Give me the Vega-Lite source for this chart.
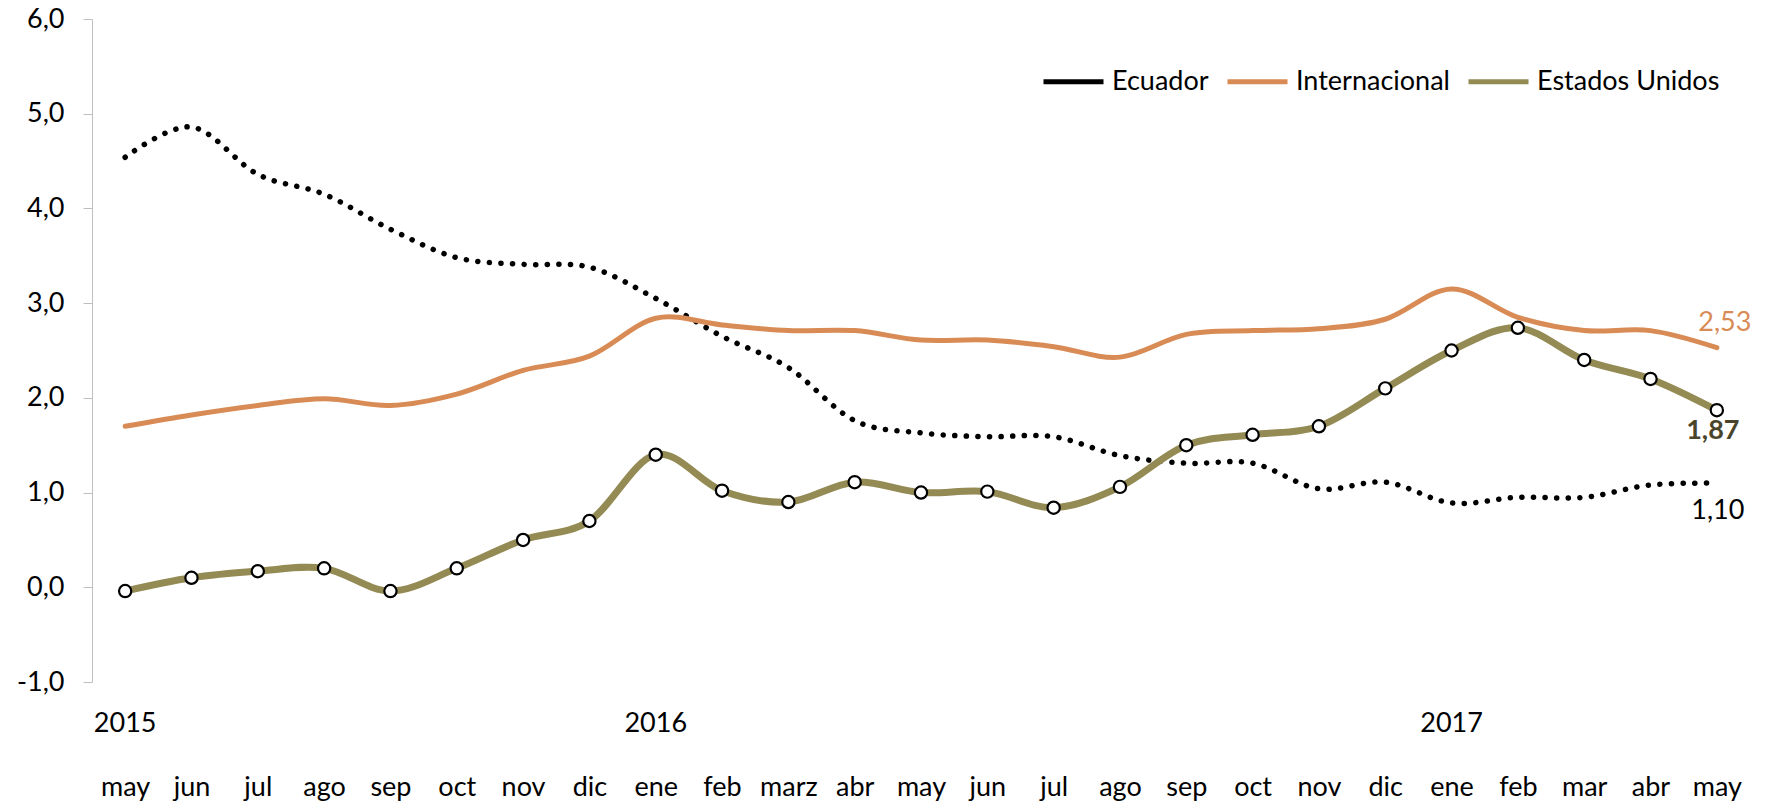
{
  "$schema": "https://vega.github.io/schema/vega-lite/v6.json",
  "width": 1658,
  "height": 663,
  "autosize": {"type": "none"},
  "padding": {"left": 92, "top": 19, "right": 20, "bottom": 120},
  "background": "white",
  "config": {
    "view": {"stroke": null},
    "font": "Lato"
  },
  "data": {"values": [
    {"mes": "may-2015", "serie": "Ecuador", "valor": 4.54},
    {"mes": "jun-2015", "serie": "Ecuador", "valor": 4.86},
    {"mes": "jul-2015", "serie": "Ecuador", "valor": 4.36},
    {"mes": "ago-2015", "serie": "Ecuador", "valor": 4.15},
    {"mes": "sep-2015", "serie": "Ecuador", "valor": 3.78},
    {"mes": "oct-2015", "serie": "Ecuador", "valor": 3.48},
    {"mes": "nov-2015", "serie": "Ecuador", "valor": 3.41},
    {"mes": "dic-2015", "serie": "Ecuador", "valor": 3.38},
    {"mes": "ene-2016", "serie": "Ecuador", "valor": 3.05},
    {"mes": "feb-2016", "serie": "Ecuador", "valor": 2.65},
    {"mes": "marz-2016", "serie": "Ecuador", "valor": 2.32},
    {"mes": "abr-2016", "serie": "Ecuador", "valor": 1.76},
    {"mes": "may-2016", "serie": "Ecuador", "valor": 1.63},
    {"mes": "jun-2016", "serie": "Ecuador", "valor": 1.59},
    {"mes": "jul-2016", "serie": "Ecuador", "valor": 1.59},
    {"mes": "ago-2016", "serie": "Ecuador", "valor": 1.39},
    {"mes": "sep-2016", "serie": "Ecuador", "valor": 1.31},
    {"mes": "oct-2016", "serie": "Ecuador", "valor": 1.31},
    {"mes": "nov-2016", "serie": "Ecuador", "valor": 1.04},
    {"mes": "dic-2016", "serie": "Ecuador", "valor": 1.11},
    {"mes": "ene-2017", "serie": "Ecuador", "valor": 0.89},
    {"mes": "feb-2017", "serie": "Ecuador", "valor": 0.95},
    {"mes": "mar-2017", "serie": "Ecuador", "valor": 0.95},
    {"mes": "abr-2017", "serie": "Ecuador", "valor": 1.08},
    {"mes": "may-2017", "serie": "Ecuador", "valor": 1.10},
    {"mes": "may-2015", "serie": "Internacional", "valor": 1.70},
    {"mes": "jun-2015", "serie": "Internacional", "valor": 1.82},
    {"mes": "jul-2015", "serie": "Internacional", "valor": 1.92},
    {"mes": "ago-2015", "serie": "Internacional", "valor": 1.99},
    {"mes": "sep-2015", "serie": "Internacional", "valor": 1.92},
    {"mes": "oct-2015", "serie": "Internacional", "valor": 2.04},
    {"mes": "nov-2015", "serie": "Internacional", "valor": 2.29},
    {"mes": "dic-2015", "serie": "Internacional", "valor": 2.44},
    {"mes": "ene-2016", "serie": "Internacional", "valor": 2.84},
    {"mes": "feb-2016", "serie": "Internacional", "valor": 2.77},
    {"mes": "marz-2016", "serie": "Internacional", "valor": 2.71},
    {"mes": "abr-2016", "serie": "Internacional", "valor": 2.71},
    {"mes": "may-2016", "serie": "Internacional", "valor": 2.61},
    {"mes": "jun-2016", "serie": "Internacional", "valor": 2.61},
    {"mes": "jul-2016", "serie": "Internacional", "valor": 2.54},
    {"mes": "ago-2016", "serie": "Internacional", "valor": 2.43},
    {"mes": "sep-2016", "serie": "Internacional", "valor": 2.67},
    {"mes": "oct-2016", "serie": "Internacional", "valor": 2.71},
    {"mes": "nov-2016", "serie": "Internacional", "valor": 2.73},
    {"mes": "dic-2016", "serie": "Internacional", "valor": 2.83},
    {"mes": "ene-2017", "serie": "Internacional", "valor": 3.15},
    {"mes": "feb-2017", "serie": "Internacional", "valor": 2.85},
    {"mes": "mar-2017", "serie": "Internacional", "valor": 2.71},
    {"mes": "abr-2017", "serie": "Internacional", "valor": 2.71},
    {"mes": "may-2017", "serie": "Internacional", "valor": 2.53},
    {"mes": "may-2015", "serie": "Estados Unidos", "valor": -0.04},
    {"mes": "jun-2015", "serie": "Estados Unidos", "valor": 0.10},
    {"mes": "jul-2015", "serie": "Estados Unidos", "valor": 0.17},
    {"mes": "ago-2015", "serie": "Estados Unidos", "valor": 0.20},
    {"mes": "sep-2015", "serie": "Estados Unidos", "valor": -0.04},
    {"mes": "oct-2015", "serie": "Estados Unidos", "valor": 0.20},
    {"mes": "nov-2015", "serie": "Estados Unidos", "valor": 0.50},
    {"mes": "dic-2015", "serie": "Estados Unidos", "valor": 0.70},
    {"mes": "ene-2016", "serie": "Estados Unidos", "valor": 1.40},
    {"mes": "feb-2016", "serie": "Estados Unidos", "valor": 1.02},
    {"mes": "marz-2016", "serie": "Estados Unidos", "valor": 0.90},
    {"mes": "abr-2016", "serie": "Estados Unidos", "valor": 1.11},
    {"mes": "may-2016", "serie": "Estados Unidos", "valor": 1.00},
    {"mes": "jun-2016", "serie": "Estados Unidos", "valor": 1.01},
    {"mes": "jul-2016", "serie": "Estados Unidos", "valor": 0.84},
    {"mes": "ago-2016", "serie": "Estados Unidos", "valor": 1.06},
    {"mes": "sep-2016", "serie": "Estados Unidos", "valor": 1.50},
    {"mes": "oct-2016", "serie": "Estados Unidos", "valor": 1.61},
    {"mes": "nov-2016", "serie": "Estados Unidos", "valor": 1.70},
    {"mes": "dic-2016", "serie": "Estados Unidos", "valor": 2.10},
    {"mes": "ene-2017", "serie": "Estados Unidos", "valor": 2.50},
    {"mes": "feb-2017", "serie": "Estados Unidos", "valor": 2.74},
    {"mes": "mar-2017", "serie": "Estados Unidos", "valor": 2.40},
    {"mes": "abr-2017", "serie": "Estados Unidos", "valor": 2.20},
    {"mes": "may-2017", "serie": "Estados Unidos", "valor": 1.87}
  ]},
  "layer": [
    {
      "transform": [{"filter": "datum.serie === 'Ecuador'"}],
      "mark": {"type": "line", "interpolate": "cardinal", "strokeCap": "round", "strokeJoin": "round", "strokeWidth": 5.5, "strokeDash": [0.1, 11.5]},
      "encoding": {
        "x": {
          "field": "mes", "type": "ordinal", "sort": null,
          "scale": {"domain": ["may-2015","jun-2015","jul-2015","ago-2015","sep-2015","oct-2015","nov-2015","dic-2015","ene-2016","feb-2016","marz-2016","abr-2016","may-2016","jun-2016","jul-2016","ago-2016","sep-2016","oct-2016","nov-2016","dic-2016","ene-2017","feb-2017","mar-2017","abr-2017","may-2017"]},
          "axis": {
            "title": null, "domain": false, "grid": false, "ticks": false, "labelAngle": 0,
            "labelFontSize": 27, "labelColor": "#000000", "labelPadding": 92,
            "labelExpr": "slice(datum.value, 0, -5)"
          }
        },
        "y": {
          "field": "valor", "type": "quantitative",
          "scale": {"domain": [-1, 6], "nice": false, "zero": false},
          "axis": {
            "title": null, "grid": false, "tickCount": 7,
            "labelExpr": "datum.value + ',0'",
            "domainColor": "#BFBFBF", "tickColor": "#BFBFBF", "tickSize": 9,
            "labelFontSize": 27, "labelColor": "#000000", "labelPadding": 19
          }
        },
        "color": {
          "field": "serie", "type": "nominal",
          "scale": {"domain": ["Ecuador", "Internacional", "Estados Unidos"], "range": ["#000000", "#D98B55", "#948A54"]},
          "legend": {
            "title": null, "orient": "top-right", "offset": 30, "direction": "horizontal",
            "symbolType": "stroke", "symbolSize": 3600, "symbolStrokeWidth": 5,
            "labelFontSize": 27, "labelColor": "#000000", "labelOffset": 6, "labelLimit": 400,
            "columnPadding": 8
          }
        }
      }
    },
    {
      "transform": [{"filter": "datum.serie === 'Internacional'"}],
      "mark": {"type": "line", "interpolate": "cardinal", "strokeCap": "round", "strokeJoin": "round", "strokeWidth": 5},
      "encoding": {
        "x": {"field": "mes", "type": "ordinal", "sort": null},
        "y": {"field": "valor", "type": "quantitative"},
        "color": {"field": "serie", "type": "nominal"}
      }
    },
    {
      "transform": [{"filter": "datum.serie === 'Estados Unidos'"}],
      "mark": {"type": "line", "interpolate": "cardinal", "strokeCap": "round", "strokeJoin": "round", "strokeWidth": 7},
      "encoding": {
        "x": {"field": "mes", "type": "ordinal", "sort": null},
        "y": {"field": "valor", "type": "quantitative"},
        "color": {"field": "serie", "type": "nominal"}
      }
    },
    {
      "transform": [{"filter": "datum.serie === 'Estados Unidos'"}],
      "mark": {"type": "point", "filled": true, "size": 150, "fill": "#FFFFFF", "stroke": "#000000", "strokeWidth": 2.2, "opacity": 1},
      "encoding": {
        "x": {"field": "mes", "type": "ordinal", "sort": null},
        "y": {"field": "valor", "type": "quantitative"}
      }
    },
    {
      "transform": [
        {"filter": "datum.serie === 'Ecuador' && (datum.mes === 'may-2015' || datum.mes === 'ene-2016' || datum.mes === 'ene-2017')"},
        {"calculate": "slice(datum.mes, -4)", "as": "anio"}
      ],
      "mark": {"type": "text", "fontSize": 27, "color": "#000000", "baseline": "middle", "align": "center"},
      "encoding": {
        "x": {"field": "mes", "type": "ordinal", "sort": null},
        "y": {"datum": -1.44},
        "text": {"field": "anio", "type": "nominal"}
      }
    },
    {
      "transform": [
        {"filter": "datum.mes === 'may-2017' && datum.serie === 'Internacional'"},
        {"calculate": "slice('' + (datum.valor + 0.001), 0, 1) + ',' + slice('' + (datum.valor + 0.001), 2, 4)", "as": "etiqueta"}
      ],
      "mark": {"type": "text", "dx": 8, "dy": -25, "fontSize": 27, "color": "#D98B55"},
      "encoding": {
        "x": {"field": "mes", "type": "ordinal", "sort": null},
        "y": {"field": "valor", "type": "quantitative"},
        "text": {"field": "etiqueta", "type": "nominal"}
      }
    },
    {
      "transform": [
        {"filter": "datum.mes === 'may-2017' && datum.serie === 'Estados Unidos'"},
        {"calculate": "slice('' + (datum.valor + 0.001), 0, 1) + ',' + slice('' + (datum.valor + 0.001), 2, 4)", "as": "etiqueta"}
      ],
      "mark": {"type": "text", "dx": -4, "dy": 21, "fontSize": 27, "fontWeight": "bold", "color": "#4A452A"},
      "encoding": {
        "x": {"field": "mes", "type": "ordinal", "sort": null},
        "y": {"field": "valor", "type": "quantitative"},
        "text": {"field": "etiqueta", "type": "nominal"}
      }
    },
    {
      "transform": [
        {"filter": "datum.mes === 'may-2017' && datum.serie === 'Ecuador'"},
        {"calculate": "slice('' + (datum.valor + 0.001), 0, 1) + ',' + slice('' + (datum.valor + 0.001), 2, 4)", "as": "etiqueta"}
      ],
      "mark": {"type": "text", "dx": 1, "dy": 28, "fontSize": 27, "color": "#000000"},
      "encoding": {
        "x": {"field": "mes", "type": "ordinal", "sort": null},
        "y": {"field": "valor", "type": "quantitative"},
        "text": {"field": "etiqueta", "type": "nominal"}
      }
    }
  ]
}
